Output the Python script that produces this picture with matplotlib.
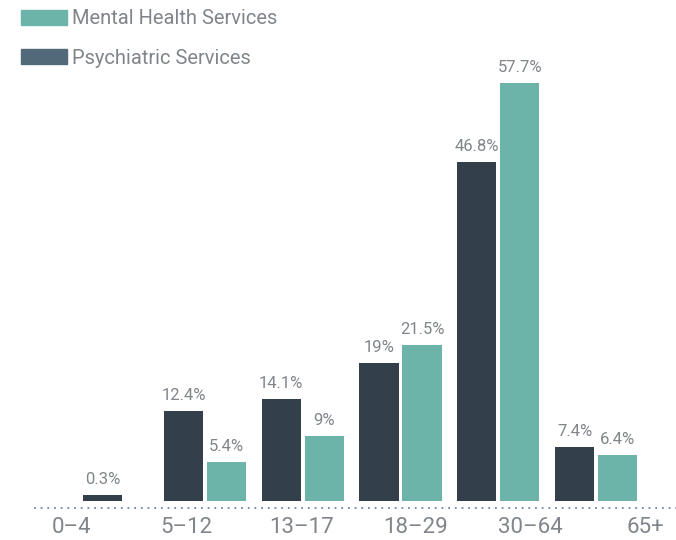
import matplotlib
matplotlib.use('Agg')
import matplotlib.pyplot as plt
from matplotlib.patches import Rectangle

# data
age_groups = ['0–4', '5–12', '13–17', '18–29', '30–64', '65+']
psychiatric = [0.3, 12.4, 14.1, 19, 46.8, 7.4]
mental_health = [None, 5.4, 9, 21.5, 57.7, 6.4]
series_names = ['Mental Health Services', 'Psychiatric Services']

dark = '#333f4a'
teal = '#6cb3aa'
legend_dark = '#52697a'
grey = '#80858b'

plt.rcParams['font.family'] = ['Roboto', 'DejaVu Sans']

fig = plt.figure(figsize=(6.76, 5.4), dpi=100)
ax = fig.add_axes([34 / 676, 30 / 540, 1 - 34 / 676, 510 / 540])

w = 0.4
off = 0.22
min_h = 0.8  # tiny bars still get a visible sliver


def bar_with_label(x, v, color):
    ax.bar(x, max(v, min_h), width=w, color=color)
    ax.text(x, max(v, min_h) + 1.1, f'{v:g}%', ha='center', va='bottom',
            color=grey, fontsize=12)


for i in range(len(age_groups)):
    single = mental_health[i] is None
    x = i - off * 0.2 if single else i - off
    bar_with_label(x, psychiatric[i], dark)
    if not single:
        bar_with_label(i + off, mental_health[i], teal)

ax.axhline(y=-0.9, color='#6f8a9a', linestyle=(0, (1, 2.7)), lw=1.3)

ax.set_xlim(-0.749, 5.818)
ax.set_ylim(-1.24, 69.15)

# category labels are spread wider than the bar groups
label_pos = [-0.361 + 1.173 * i for i in range(len(age_groups))]
ax.set_xticks(label_pos)
ax.set_xticklabels(age_groups, fontsize=16, color=grey)
ax.tick_params(axis='x', length=0, pad=5)
ax.set_yticks([])
for s in ax.spines.values():
    s.set_visible(False)

# legend drawn by hand
for k, (name, c) in enumerate(zip(series_names, [teal, legend_dark])):
    y0 = 1 - (10 + 39 * k + 15) / 540
    fig.add_artist(Rectangle((21 / 676, y0), 46 / 676, 15 / 540, color=c,
                             transform=fig.transFigure))
    fig.text(72 / 676, y0 + 6 / 540, name, color=grey, fontsize=14.5, va='center')

fig.savefig('out.png', dpi=100)
